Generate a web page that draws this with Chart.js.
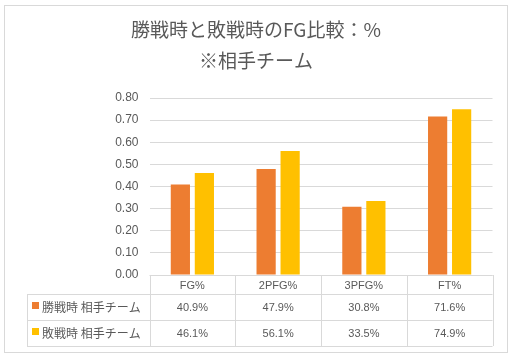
<!DOCTYPE html>
<html>
<head>
<meta charset="utf-8">
<script src="https://cdn.jsdelivr.net/npm/chart.js@4"></script>
<style>
html, body { margin: 0; padding: 0; background: #fff; }
#wrap { position: relative; width: 512px; height: 359px; }
</style>
</head>
<body>
<div id="wrap"><canvas id="fg-bar" width="512" height="359"></canvas></div>
<script>
const titleLines = ['勝戦時と敗戦時のFG比較：%', '※相手チーム'];
const categories = ['FG%', '2PFG%', '3PFG%', 'FT%'];
const winLabel = '勝戦時 相手チーム';
const loseLabel = '敗戦時 相手チーム';
const winValues = [0.409, 0.479, 0.308, 0.716];
const loseValues = [0.461, 0.561, 0.335, 0.749];
const yTicks = [0, 0.1, 0.2, 0.3, 0.4, 0.5, 0.6, 0.7, 0.8];

const textColor = '#595959';
const lineColor = '#d9d9d9';
const jpFont = '"Noto Sans CJK JP", "Noto Sans", sans-serif';
const numFont = '"Liberation Sans", Arial, sans-serif';

// frame, title and data table under the plot
const tablePlugin = {
    id: 'tablePlugin',
    beforeDraw(chart){
        let ctx = chart.ctx;
        ctx.save();
        ctx.fillStyle = '#fff';
        ctx.fillRect(0, 0, chart.width, chart.height);
        ctx.strokeStyle = lineColor;
        ctx.lineWidth = 1;
        ctx.strokeRect(4.5, 5.5, 503, 347);
        ctx.fillStyle = textColor;
        ctx.textAlign = 'center';
        ctx.textBaseline = 'middle';
        ctx.font = '19px ' + jpFont;
        ctx.fillText(titleLines[0], 256, 30);
        ctx.fillText(titleLines[1], 256, 61);
        ctx.restore();
    },
    afterDraw(chart){
        let ctx = chart.ctx;
        let x = chart.scales.x;
        let area = chart.chartArea;
        let left = 27, top = area.bottom;
        let rows = [top, top + 19, top + 45, top + 71];
        let w = (area.right - area.left) / categories.length;
        ctx.save();
        ctx.strokeStyle = lineColor;
        ctx.lineWidth = 1;
        ctx.beginPath();
        // horizontal lines
        ctx.moveTo(area.left, rows[0] + 0.5); ctx.lineTo(area.right, rows[0] + 0.5);
        for(let r of rows.slice(1)){
            ctx.moveTo(left, r + 0.5); ctx.lineTo(area.right, r + 0.5);
        }
        // vertical lines
        ctx.moveTo(left + 0.5, rows[1]); ctx.lineTo(left + 0.5, rows[3]);
        for(let i = 0; i <= categories.length; i++){
            let vx = Math.round(area.left + i * w) + 0.5;
            ctx.moveTo(vx, rows[0]); ctx.lineTo(vx, rows[3]);
        }
        ctx.stroke();

        ctx.fillStyle = textColor;
        ctx.textAlign = 'center';
        ctx.textBaseline = 'middle';
        ctx.font = '11px ' + numFont;
        categories.forEach((c, i) => {
            let cx = x.getPixelForValue(i);
            ctx.fillText(c, cx, (rows[0] + rows[1]) / 2 + 1);
            ctx.fillText((winValues[i] * 100).toFixed(1) + '%', cx, (rows[1] + rows[2]) / 2 + 1);
            ctx.fillText((loseValues[i] * 100).toFixed(1) + '%', cx, (rows[2] + rows[3]) / 2 + 1);
        });

        // legend keys
        let sets = chart.data.datasets;
        [1, 2].forEach((r, k) => {
            let cy = (rows[r] + rows[r + 1]) / 2;
            ctx.fillStyle = sets[k].backgroundColor;
            ctx.fillRect(32, cy - 5, 7, 7);
            ctx.fillStyle = textColor;
            ctx.textAlign = 'left';
            ctx.font = '12px ' + jpFont;
            ctx.fillText(sets[k].label, 42, cy);
        });
        ctx.restore();
    }
};

const fgBar = new Chart(
    document.getElementById('fg-bar').getContext('2d'),
    {
        type: 'bar',
        data: {
            labels: categories,
            datasets: [
                {label: winLabel, data: winValues, backgroundColor: '#ed7d31', categoryPercentage: 0.56, barPercentage: 0.8},
                {label: loseLabel, data: loseValues, backgroundColor: '#ffc000', categoryPercentage: 0.56, barPercentage: 0.8}
            ]
        },
        options: {
            responsive: false,
            animation: false,
            layout: {padding: {top: 98, right: 19.5, bottom: 0, left: 0}},
            scales: {
                y: {
                    min: 0,
                    max: 0.8,
                    afterBuildTicks: (s) => { s.ticks = yTicks.map(v => ({value: v})); },
                    afterFit: (s) => { s.width = 149.5; },
                    border: {display: false},
                    grid: {color: lineColor, drawTicks: false},
                    ticks: {
                        padding: 11,
                        color: textColor,
                        font: {size: 12, family: numFont},
                        callback: (v) => v.toFixed(2)
                    }
                },
                x: {
                    afterFit: (s) => { s.height = 84; },
                    border: {display: false},
                    grid: {display: false},
                    ticks: {display: false}
                }
            },
            plugins: {
                legend: {display: false},
                title: {display: false},
                tooltip: {enabled: false}
            }
        },
        plugins: [tablePlugin]
    }
)

fgBar.update()
</script>
</body>
</html>
